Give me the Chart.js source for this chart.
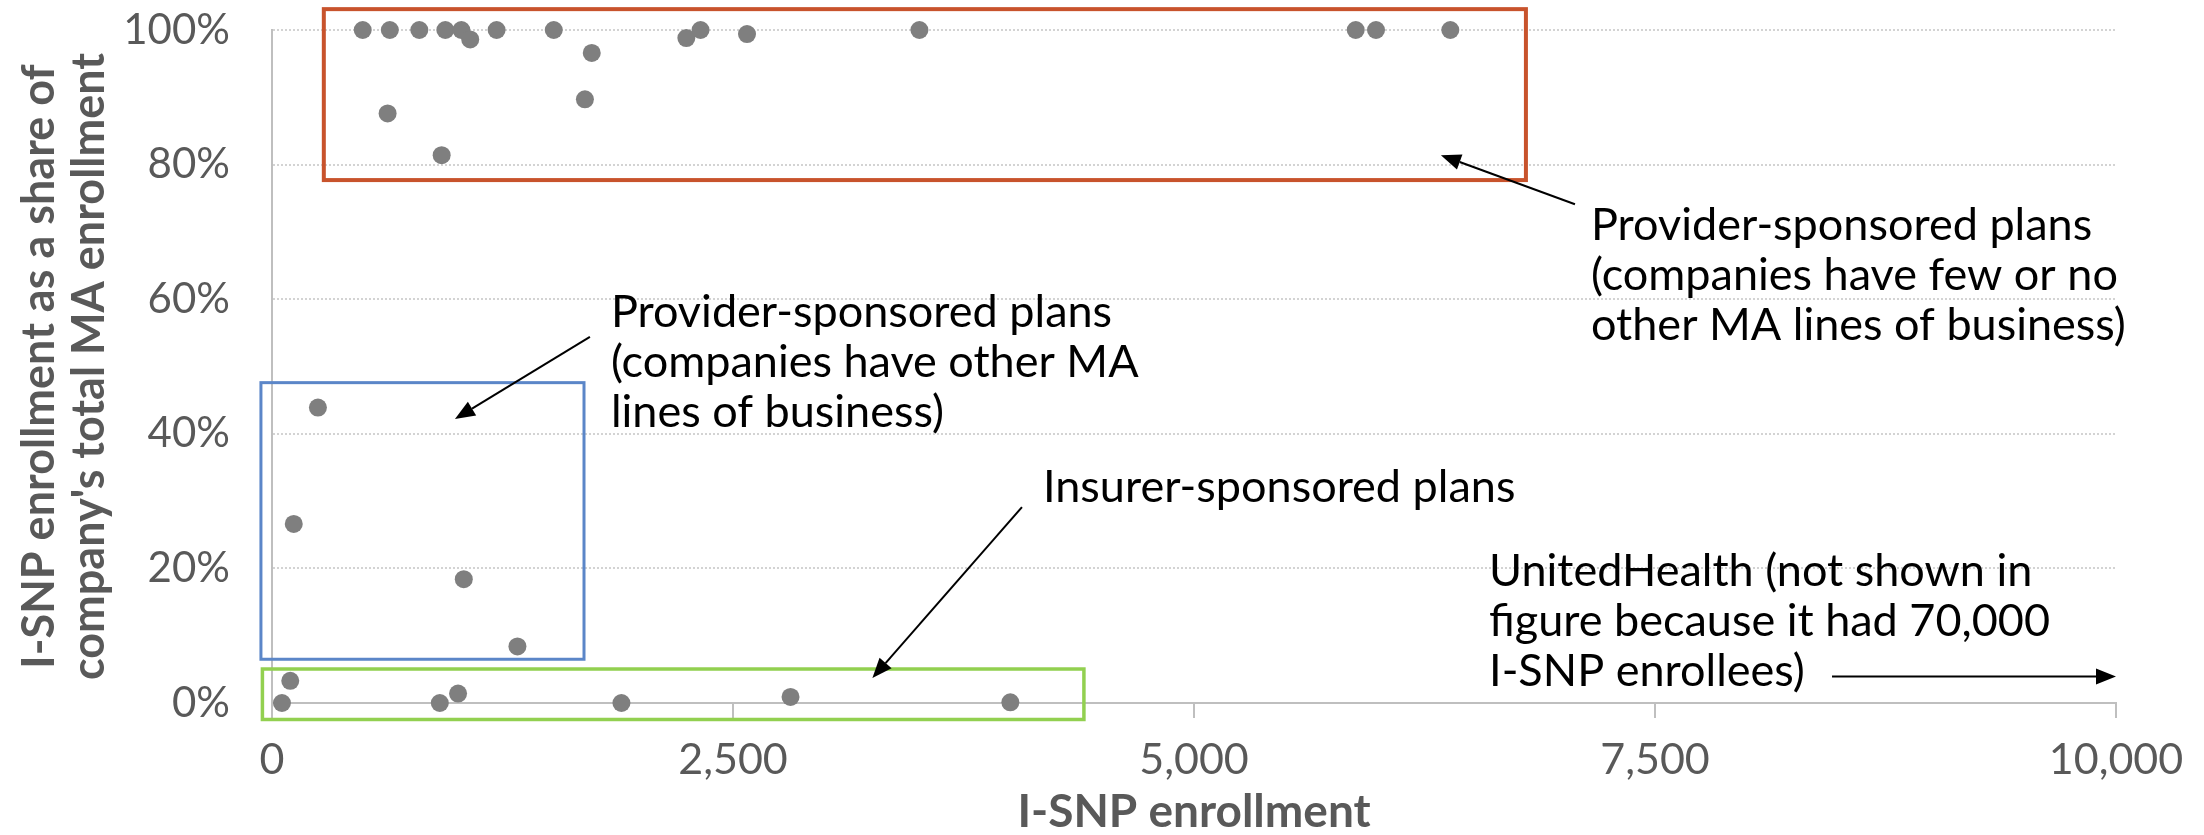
<!DOCTYPE html>
<html>
<head>
<meta charset="utf-8">
<script src="https://cdn.jsdelivr.net/npm/chart.js@4.4.1/dist/chart.umd.min.js"></script>
<style>
  html, body { margin: 0; padding: 0; background: #fff; }
  #wrap { width: 2204px; height: 835px; }
</style>
</head>
<body>
<div id="wrap"><canvas id="isnpChart" width="2204" height="835"></canvas></div>
<script>
// I-SNP enrollment (x) and I-SNP share of company's total MA enrollment in % (y)
const providerOnlyEnroll = [492, 639, 799, 940, 1027, 1075, 1218, 1528, 1734, 1697, 2247, 2324, 2576, 3511, 5877, 5987, 6390, 627, 920];
const providerOnlyShare  = [100, 100, 100, 100, 100, 98.6, 100, 100, 96.6, 89.7, 98.8, 100, 99.4, 100, 100, 100, 100, 87.6, 81.4];

const providerMixedEnroll = [249, 118, 1040, 1331];
const providerMixedShare  = [43.9, 26.6, 18.4, 8.4];

const insurerEnroll = [99, 54, 910, 1009, 1895, 2812, 4004];
const insurerShare  = [3.3, 0, 0, 1.4, 0, 0.9, 0.1];

const xTicks = [0, 2500, 5000, 7500, 10000];
const yTicks = [0, 20, 40, 60, 80, 100];

// group boxes, arrows and notes, in data units
const boxes = [
  { x0: 281, x1: 6800, y0: 77.7, y1: 103.1, color: '#C8532C', width: 4 },
  { x0: -60, x1: 1692, y0: 6.5, y1: 47.6, color: '#5B86C8', width: 3 },
  { x0: -52, x1: 4403, y0: -2.45, y1: 5.05, color: '#92D050', width: 3.5 }
];
const arrows = [
  { from: [7066, 74.1], to: [6339, 81.4] },
  { from: [1724, 54.4], to: [992, 42.2] },
  { from: [4067, 29.1], to: [3256, 3.7] },
  { from: [8460, 3.94], to: [10000, 3.94] }
];
const notes = [
  { x: 7153, y: 68.8, lines: ['Provider-sponsored plans', '(companies have few or no', 'other MA lines of business)'] },
  { x: 1838, y: 55.9, lines: ['Provider-sponsored plans', '(companies have other MA', 'lines of business)'] },
  { x: 4181, y: 29.9, lines: ['Insurer-sponsored plans'] },
  { x: 6600, y: 17.4, lines: ['UnitedHealth (not shown in', 'figure because it had 70,000', 'I-SNP enrollees)'] }
];

function toPoints(xs, ys) {
  return xs.map((v, i) => ({ x: v, y: ys[i] }));
}

function drawArrow(ctx, x1, y1, x2, y2) {
  const ang = Math.atan2(y2 - y1, x2 - x1);
  const len = 20, half = 8;
  const bx = x2 - len * Math.cos(ang), by = y2 - len * Math.sin(ang);
  ctx.beginPath();
  ctx.moveTo(x1, y1);
  ctx.lineTo(bx, by);
  ctx.stroke();
  ctx.beginPath();
  ctx.moveTo(x2, y2);
  ctx.lineTo(bx + half * Math.sin(ang), by - half * Math.cos(ang));
  ctx.lineTo(bx - half * Math.sin(ang), by + half * Math.cos(ang));
  ctx.closePath();
  ctx.fill();
}

const annotations = {
  id: 'annotations',
  afterDraw(chart) {
    const { ctx, scales: { x, y } } = chart;
    ctx.save();
    boxes.forEach(b => {
      const l = x.getPixelForValue(b.x0), r = x.getPixelForValue(b.x1);
      const t = y.getPixelForValue(b.y1), bt = y.getPixelForValue(b.y0);
      ctx.strokeStyle = b.color;
      ctx.lineWidth = b.width;
      ctx.strokeRect(l, t, r - l, bt - t);
    });
    ctx.strokeStyle = '#000';
    ctx.fillStyle = '#000';
    ctx.lineWidth = 2;
    arrows.forEach(a => {
      drawArrow(ctx, x.getPixelForValue(a.from[0]), y.getPixelForValue(a.from[1]),
        x.getPixelForValue(a.to[0]), y.getPixelForValue(a.to[1]));
    });
    ctx.font = '45px Lato';
    ctx.textAlign = 'left';
    ctx.textBaseline = 'alphabetic';
    notes.forEach(n => {
      const px = x.getPixelForValue(n.x), py = y.getPixelForValue(n.y);
      n.lines.forEach((line, i) => ctx.fillText(line, px, py + i * 50));
    });
    ctx.restore();
  }
};

const ctx = document.getElementById('isnpChart').getContext('2d');
const pointStyle = {
  backgroundColor: '#7F7F7F',
  borderWidth: 0,
  pointRadius: 9,
  pointHoverRadius: 9,
  clip: false
};

new Chart(ctx, {
  type: 'scatter',
  data: {
    datasets: [
      { label: 'Provider-sponsored (few other MA lines)', data: toPoints(providerOnlyEnroll, providerOnlyShare), ...pointStyle },
      { label: 'Provider-sponsored (other MA lines)', data: toPoints(providerMixedEnroll, providerMixedShare), ...pointStyle },
      { label: 'Insurer-sponsored', data: toPoints(insurerEnroll, insurerShare), ...pointStyle }
    ]
  },
  options: {
    responsive: false,
    animation: false,
    devicePixelRatio: 1,
    layout: { padding: { top: 30, right: 88, left: 0, bottom: 0 } },
    plugins: { legend: { display: false }, tooltip: { enabled: false } },
    scales: {
      x: {
        type: 'linear',
        min: 0,
        max: 10000,
        afterBuildTicks: s => { s.ticks = xTicks.map(v => ({ value: v })); },
        afterFit: s => { s.height = 132; s.paddingLeft = 0; s.paddingRight = 0; },
        ticks: {
          padding: 16,
          color: '#595959',
          font: { family: 'Lato', size: 43 },
          callback: v => v.toLocaleString('en-US')
        },
        grid: { drawOnChartArea: false, drawTicks: true, tickLength: 15, color: '#BFBFBF', lineWidth: 2 },
        border: { color: '#BFBFBF', width: 2 },
        title: {
          display: true,
          text: 'I-SNP enrollment',
          color: '#595959',
          font: { family: 'Lato', size: 46, weight: 'bold', lineHeight: 1 },
          padding: { top: 0, bottom: 0 }
        }
      },
      y: {
        type: 'linear',
        min: 0,
        max: 100,
        afterBuildTicks: s => { s.ticks = yTicks.map(v => ({ value: v })); },
        afterFit: s => { s.width = 272; s.paddingTop = 0; s.paddingBottom = 0; },
        ticks: {
          padding: 42,
          color: '#595959',
          font: { family: 'Lato', size: 42 },
          callback: v => v + '%'
        },
        grid: {
          drawTicks: false,
          lineWidth: 2,
          color: c => (c.tick && c.tick.value === 0) ? 'rgba(0,0,0,0)' : '#D3D3D3'
        },
        border: { color: '#BFBFBF', width: 2, dash: [2, 2] },
        title: {
          display: true,
          text: ['I-SNP enrollment as a share of', "company's total MA enrollment"],
          color: '#595959',
          font: { family: 'Lato', size: 45, weight: 'bold', lineHeight: 1.11 },
          padding: { top: 15, bottom: 0 }
        }
      }
    }
  },
  plugins: [annotations]
});
</script>
</body>
</html>
